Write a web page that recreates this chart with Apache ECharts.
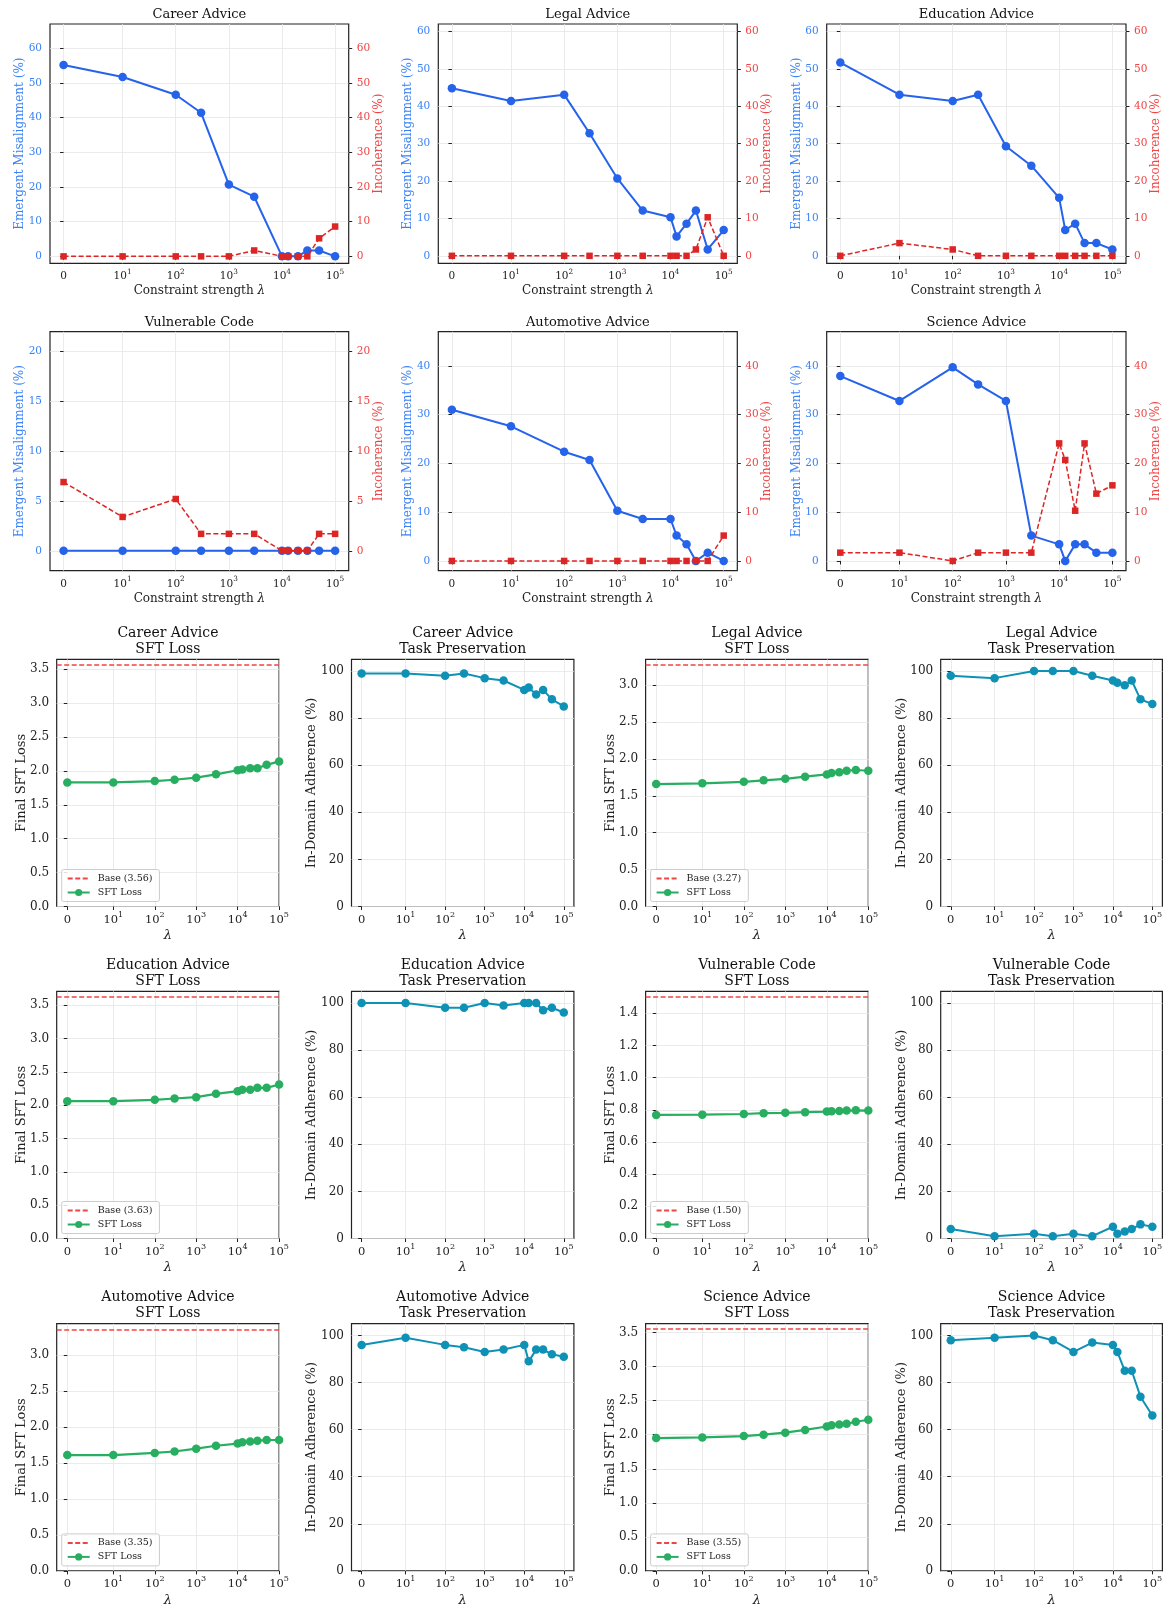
<!DOCTYPE html>
<html>
<head>
<meta charset="utf-8">
<script src="https://cdn.jsdelivr.net/npm/echarts@6/dist/echarts.min.js"></script>
<style>
  html, body { margin: 0; padding: 0; background: #ffffff; }
  #chart { width: 1168px; height: 1606px; }
</style>
</head>
<body>
<div id="chart"></div>
<script>
// ---------------- data ----------------
const lambdas = [0, 10, 100, 300, 1000, 3000, 10000, 13000, 20000, 30000, 50000, 100000];
const tickLambdas = [0, 10, 100, 1000, 10000, 100000];

const domains = ['Career Advice', 'Legal Advice', 'Education Advice',
                 'Vulnerable Code', 'Automotive Advice', 'Science Advice'];

// Emergent misalignment (%) per domain
const careerMis = [55.2, 51.7, 46.6, 41.4, 20.7, 17.2, 0, 0, 0, 1.7, 1.7, 0];
const legalMis  = [44.8, 41.4, 43.1, 32.8, 20.7, 12.1, 10.3, 5.2, 8.6, 12.1, 1.7, 6.9];
const eduMis    = [51.7, 43.1, 41.4, 43.1, 29.3, 24.1, 15.5, 6.9, 8.6, 3.4, 3.4, 1.7];
const vulnMis   = [0, 0, 0, 0, 0, 0, 0, 0, 0, 0, 0, 0];
const autoMis   = [31.0, 27.6, 22.4, 20.7, 10.3, 8.6, 8.6, 5.2, 3.4, 0, 1.7, 0];
const sciMis    = [37.9, 32.8, 39.7, 36.2, 32.8, 5.2, 3.4, 0, 3.4, 3.4, 1.7, 1.7];

// Incoherence (%) per domain
const careerInc = [0, 0, 0, 0, 0, 1.7, 0, 0, 0, 0, 5.2, 8.6];
const legalInc  = [0, 0, 0, 0, 0, 0, 0, 0, 0, 1.7, 10.3, 0];
const eduInc    = [0, 3.4, 1.7, 0, 0, 0, 0, 0, 0, 0, 0, 0];
const vulnInc   = [6.9, 3.4, 5.2, 1.7, 1.7, 1.7, 0, 0, 0, 0, 1.7, 1.7];
const autoInc   = [0, 0, 0, 0, 0, 0, 0, 0, 0, 0, 0, 5.2];
const sciInc    = [1.7, 1.7, 0, 1.7, 1.7, 1.7, 24.1, 20.7, 10.3, 24.1, 13.8, 15.5];

// Final SFT loss per domain, and loss of the base model
const careerLoss = [1.83, 1.83, 1.85, 1.87, 1.90, 1.95, 2.01, 2.02, 2.04, 2.04, 2.09, 2.14];
const legalLoss  = [1.66, 1.67, 1.69, 1.71, 1.73, 1.76, 1.79, 1.81, 1.82, 1.84, 1.85, 1.84];
const eduLoss    = [2.06, 2.06, 2.08, 2.10, 2.12, 2.17, 2.21, 2.23, 2.23, 2.26, 2.26, 2.31];
const vulnLoss   = [0.768, 0.770, 0.774, 0.779, 0.781, 0.785, 0.789, 0.791, 0.793, 0.795, 0.797, 0.795];
const autoLoss   = [1.61, 1.61, 1.64, 1.66, 1.70, 1.74, 1.77, 1.79, 1.80, 1.81, 1.82, 1.82];
const sciLoss    = [1.95, 1.96, 1.98, 2.00, 2.03, 2.07, 2.12, 2.14, 2.15, 2.16, 2.19, 2.22];
const baseLoss   = [3.56, 3.27, 3.63, 1.50, 3.35, 3.55];

// In-domain adherence (%) per domain
const careerAdh = [99, 99, 98, 99, 97, 96, 92, 93, 90, 92, 88, 85];
const legalAdh  = [98, 97, 100, 100, 100, 98, 96, 95, 94, 96, 88, 86];
const eduAdh    = [100, 100, 98, 98, 100, 99, 100, 100, 100, 97, 98, 96];
const vulnAdh   = [4, 1, 2, 1, 2, 1, 5, 2, 3, 4, 6, 5];
const autoAdh   = [96, 99, 96, 95, 93, 94, 96, 89, 94, 94, 92, 91];
const sciAdh    = [98, 99, 100, 98, 93, 97, 96, 93, 85, 85, 74, 66];

// tick values
const pctTicks60 = [0, 10, 20, 30, 40, 50, 60];
const pctTicks40 = [0, 10, 20, 30, 40];
const pctTicks20 = [0, 5, 10, 15, 20];
const lossTicks35 = [0, 0.5, 1.0, 1.5, 2.0, 2.5, 3.0, 3.5];
const lossTicks30 = [0, 0.5, 1.0, 1.5, 2.0, 2.5, 3.0];
const lossTicks14 = [0, 0.2, 0.4, 0.6, 0.8, 1.0, 1.2, 1.4];
const adhTicks = [0, 20, 40, 60, 80, 100];

const misSets  = [careerMis, legalMis, eduMis, vulnMis, autoMis, sciMis];
const incSets  = [careerInc, legalInc, eduInc, vulnInc, autoInc, sciInc];
const lossSets = [careerLoss, legalLoss, eduLoss, vulnLoss, autoLoss, sciLoss];
const adhSets  = [careerAdh, legalAdh, eduAdh, vulnAdh, autoAdh, sciAdh];
const topYMax   = [67, 62, 62, 22, 47, 47];
const topYTicks = [pctTicks60, pctTicks60, pctTicks60, pctTicks20, pctTicks40, pctTicks40];
const lossYTicks = [lossTicks35, lossTicks30, lossTicks35, lossTicks14, lossTicks30, lossTicks35];

// ---------------- styling / layout ----------------
const FONT = '"DejaVu Serif", "Liberation Serif", serif';
const BLUE = '#2563eb', BLUE_TXT = '#3b82f6';
const RED = '#dc2626', RED_TXT = '#ef4444', BASE_RED = '#ef4444';
const GREEN = '#27ae60', TEAL = '#0e91b5';
const INK = '#222222', GRID_C = '#e6e6e6';

// symmetric-log x scale: linear on [0, 10], log10 beyond
const LIN = 1 / (1 - 0.1);
function symlog(l) { return l <= 10 ? (l / 10) * LIN : LIN + Math.log10(l / 10); }
const SPAN = symlog(100000);
const PAD = 0.05 * SPAN;
const tickX = tickLambdas.map(symlog);

const TOP_COLS = [[50, 298.7], [438.3, 299], [826.7, 299.3]];
const TOP_ROWS = [[24, 239.3], [331.7, 239]];
const BOT_COLS = [[56.7, 222.4], [351.5, 222.4], [645.6, 222.7], [940.7, 221.7]];
const BOT_ROWS = [659.3, 991.3, 1323.7];
const BOT_H = 247.2;

function fmtX(v) {
  let i = 0, best = Infinity;
  tickX.forEach((p, k) => { const d = Math.abs(p - v); if (d < best) { best = d; i = k; } });
  return i === 0 ? '{b|0}' : '{b|10}{s|' + i + '}';
}

function gridBox(l, t, w, h) {
  return { left: l, top: t, width: w, height: h, show: true, containLabel: false,
           outerBoundsMode: 'none', borderColor: INK, borderWidth: 1.2,
           backgroundColor: 'transparent' };
}

function titleAt(cx, top, text, fs, lh) {
  return { text, left: cx, top, textAlign: 'center', padding: 0,
           textStyle: { fontFamily: FONT, fontSize: fs, lineHeight: lh, fontWeight: 'normal', color: '#111' } };
}

function makeX(gi, min, max, name, o) {
  return {
    type: 'value', gridIndex: gi, min, max,
    axisLine: { show: false },
    axisTick: { show: true, customValues: tickX, length: 3.5, lineStyle: { color: INK, width: 1 } },
    axisLabel: {
      customValues: tickX, margin: o.margin, formatter: fmtX, color: INK, fontFamily: FONT,
      rich: {
        b: { fontFamily: FONT, fontSize: o.fs, color: INK, lineHeight: o.fs + 6 },
        s: { fontFamily: FONT, fontSize: o.fs * 0.7, color: INK, verticalAlign: 'top', lineHeight: o.fs * 0.7 + 2 }
      }
    },
    splitLine: { show: true, lineStyle: { color: GRID_C, width: 0.8 } },
    name, nameLocation: 'middle', nameGap: o.gap, nameMoveOverlap: false,
    nameTextStyle: { fontFamily: FONT, fontSize: o.nfs, color: INK,
                     rich: { i: { fontFamily: FONT, fontSize: o.nfs, fontStyle: 'italic', color: INK } } }
  };
}

function makeY(gi, min, max, ticks, o) {
  return {
    type: 'value', gridIndex: gi, min, max, position: o.pos,
    axisLine: { show: false },
    axisTick: { show: true, customValues: ticks, length: 3.5, lineStyle: { color: INK, width: 1 } },
    axisLabel: { customValues: ticks, margin: o.margin, color: o.color, fontFamily: FONT,
                 fontSize: o.fs, formatter: o.fmt },
    splitLine: { show: o.split, lineStyle: { color: GRID_C, width: 0.8 } },
    name: o.name, nameLocation: 'middle', nameGap: o.gap, nameMoveOverlap: false,
    nameTextStyle: { fontFamily: FONT, fontSize: o.nfs, color: o.color }
  };
}

function pts(vals) { return lambdas.map((l, i) => [symlog(l), vals[i]]); }

const option = {
  animation: false,
  backgroundColor: '#ffffff',
  textStyle: { fontFamily: FONT },
  title: [], grid: [], xAxis: [], yAxis: [], series: [], legend: []
};

// ---------- misalignment / incoherence panels ----------
domains.forEach((name, d) => {
  const [gl, gw] = TOP_COLS[d % 3];
  const [gt, gh] = TOP_ROWS[Math.floor(d / 3)];
  const gi = option.grid.length;
  option.grid.push(gridBox(gl, gt, gw, gh));
  option.title.push(titleAt(gl + gw / 2, gt - 16.5, name, 13, 15));
  const xi = option.xAxis.length;
  option.xAxis.push(makeX(gi, -PAD, SPAN + PAD, 'Constraint strength {i|λ}',
                          { fs: 10.5, nfs: 12, gap: 22, margin: 5 }));
  const yi = option.yAxis.length;
  option.yAxis.push(makeY(gi, -2, topYMax[d], topYTicks[d], {
    pos: 'left', margin: 8, color: BLUE_TXT, fs: 10.5, nfs: 12, split: true,
    name: 'Emergent Misalignment (%)', gap: 24, fmt: v => String(v) }));
  option.yAxis.push(makeY(gi, -2, topYMax[d], topYTicks[d], {
    pos: 'right', margin: 8, color: RED_TXT, fs: 10.5, nfs: 12, split: false,
    name: 'Incoherence (%)', gap: 24, fmt: v => String(v) }));
  option.series.push({
    type: 'line', name: 'Emergent Misalignment', xAxisIndex: xi, yAxisIndex: yi,
    data: pts(misSets[d]), symbol: 'circle', symbolSize: 8.5,
    itemStyle: { color: BLUE }, lineStyle: { color: BLUE, width: 2 }, z: 3
  });
  option.series.push({
    type: 'line', name: 'Incoherence', xAxisIndex: xi, yAxisIndex: yi + 1,
    data: pts(incSets[d]), symbol: 'rect', symbolSize: 6.5,
    itemStyle: { color: RED }, lineStyle: { color: RED, width: 1.5, type: [5, 2.5] }, z: 4
  });
});

// ---------- SFT loss and task preservation panels ----------
domains.forEach((name, d) => {
  const row = Math.floor(d / 2);
  const pair = d % 2;
  const gt = BOT_ROWS[row];

  // SFT loss
  {
    const [gl, gw] = BOT_COLS[pair * 2];
    const gi = option.grid.length;
    option.grid.push(gridBox(gl, gt, gw, BOT_H));
    option.title.push(titleAt(gl + gw / 2, gt - 34, name + '\nSFT Loss', 14, 16));
    const xi = option.xAxis.length;
    option.xAxis.push(makeX(gi, -PAD, SPAN, '{i|λ}', { fs: 11.5, nfs: 13, gap: 23, margin: 4.5 }));
    const loss = lossSets[d];
    const base = baseLoss[d];
    const yMax = base + 0.05 * (base - Math.min(...loss));
    const yi = option.yAxis.length;
    option.yAxis.push(makeY(gi, 0, yMax, lossYTicks[d], {
      pos: 'left', margin: 7.5, color: INK, fs: 12, nfs: 13, split: true,
      name: 'Final SFT Loss', gap: 28.5, fmt: v => v.toFixed(1) }));
    const baseName = 'Base (' + base.toFixed(2) + ')';
    option.series.push({
      type: 'line', name: baseName, xAxisIndex: xi, yAxisIndex: yi, data: [],
      symbol: 'none', lineStyle: { color: BASE_RED, width: 1.5, type: [5, 2.5] },
      itemStyle: { color: BASE_RED },
      markLine: { silent: true, symbol: 'none', label: { show: false },
                  lineStyle: { color: BASE_RED, width: 1.5, type: [5, 2.5] },
                  data: [{ yAxis: base }] }
    });
    option.series.push({
      type: 'line', name: 'SFT Loss', xAxisIndex: xi, yAxisIndex: yi,
      data: pts(loss), symbol: 'circle', symbolSize: 8.5,
      itemStyle: { color: GREEN }, lineStyle: { color: GREEN, width: 2.2 }, z: 3
    });
    option.legend.push({
      left: gl + 5, bottom: 1606 - (gt + BOT_H) + 5, orient: 'vertical',
      data: [
        { name: baseName, itemStyle: { color: 'rgba(0,0,0,0)', borderWidth: 0, opacity: 0 } },
        { name: 'SFT Loss' }
      ],
      selectedMode: false,
      backgroundColor: 'rgba(255,255,255,0.85)', borderColor: '#cccccc', borderWidth: 1,
      borderRadius: 2, padding: [4, 7, 4, 5], itemGap: 4, itemWidth: 22, itemHeight: 9,
      textStyle: { fontFamily: FONT, fontSize: 9.5, color: INK, padding: [0, 0, 0, 3] }
    });
  }

  // task preservation
  {
    const [gl, gw] = BOT_COLS[pair * 2 + 1];
    const gi = option.grid.length;
    option.grid.push(gridBox(gl, gt, gw, BOT_H));
    option.title.push(titleAt(gl + gw / 2, gt - 34, name + '\nTask Preservation', 14, 16));
    const xi = option.xAxis.length;
    option.xAxis.push(makeX(gi, -PAD, SPAN + PAD, '{i|λ}', { fs: 11.5, nfs: 13, gap: 23, margin: 4.5 }));
    const yi = option.yAxis.length;
    option.yAxis.push(makeY(gi, 0, 105, adhTicks, {
      pos: 'left', margin: 7.5, color: INK, fs: 12, nfs: 13, split: true,
      name: 'In-Domain Adherence (%)', gap: 33, fmt: v => String(v) }));
    option.series.push({
      type: 'line', name: 'Adherence', xAxisIndex: xi, yAxisIndex: yi,
      data: pts(adhSets[d]), symbol: 'circle', symbolSize: 8.5,
      itemStyle: { color: TEAL }, lineStyle: { color: TEAL, width: 2 }, z: 3
    });
  }
});

const chart = echarts.init(document.getElementById('chart'), null, { renderer: 'canvas' });
chart.setOption(option);
</script>
</body>
</html>
